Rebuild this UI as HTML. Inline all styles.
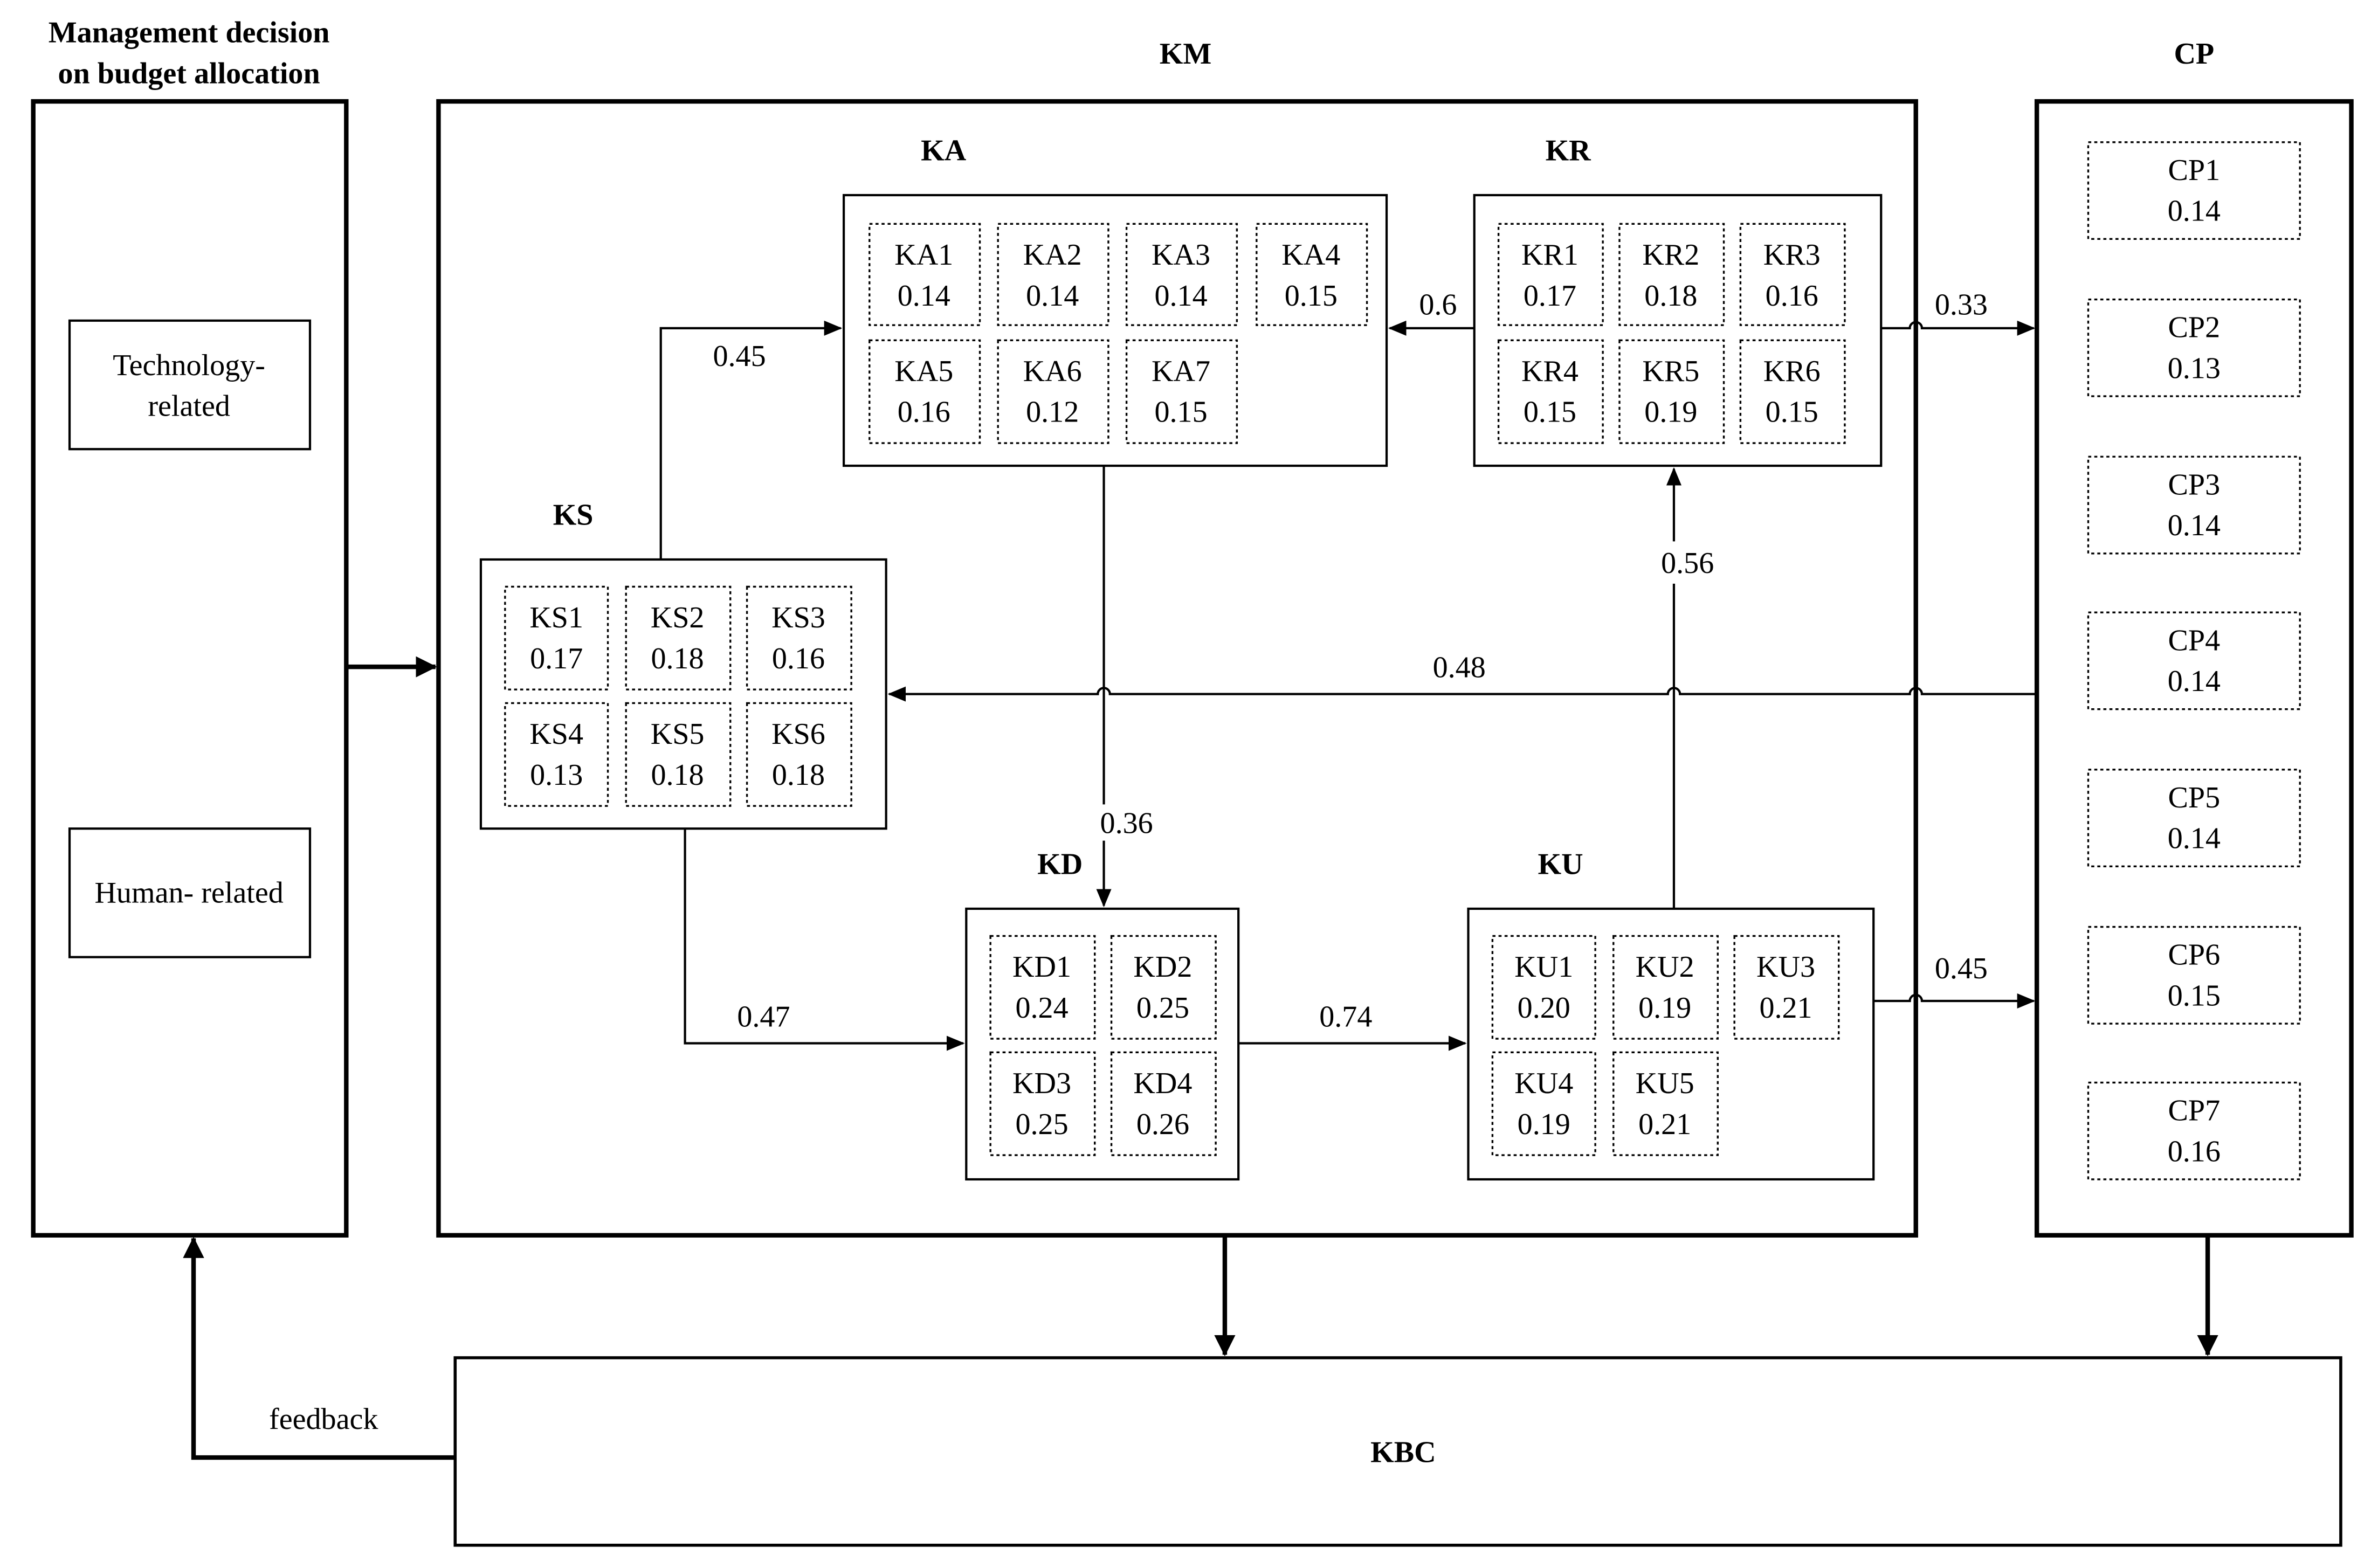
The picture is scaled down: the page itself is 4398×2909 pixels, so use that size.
<!DOCTYPE html>
<html><head><meta charset="utf-8"><style>html,body{margin:0;padding:0;background:#fff}svg{display:block}</style></head>
<body>
<svg width="4398" height="2909" viewBox="0 0 1568 1037" xmlns="http://www.w3.org/2000/svg" font-family="Liberation Serif, serif">
<defs>
<marker id="a" markerWidth="12" markerHeight="10" refX="11" refY="5" orient="auto" markerUnits="userSpaceOnUse"><path d="M0,0 L12,5 L0,10 Z" fill="#000"/></marker>
<marker id="b" markerWidth="14" markerHeight="14" refX="13" refY="7" orient="auto" markerUnits="userSpaceOnUse"><path d="M0,0 L14,7 L0,14 Z" fill="#000"/></marker>
</defs>
<rect width="1568" height="1037" fill="#fff"/>
<g fill="none" stroke="#000">
<rect x="22" y="67" width="207" height="750" stroke-width="3"/>
<rect x="290" y="67" width="977" height="750" stroke-width="3"/>
<rect x="1347" y="67" width="208" height="750" stroke-width="3"/>
<rect x="301" y="898" width="1247" height="124" stroke-width="2"/>
<rect x="46" y="212" width="159" height="85" stroke-width="1.5"/>
<rect x="46" y="548" width="159" height="85" stroke-width="1.5"/>
<rect x="558" y="129" width="359" height="179" stroke-width="1.5"/>
<rect x="975" y="129" width="269" height="179" stroke-width="1.5"/>
<rect x="318" y="370" width="268" height="178" stroke-width="1.5"/>
<rect x="639" y="601" width="180" height="179" stroke-width="1.5"/>
<rect x="971" y="601" width="268" height="179" stroke-width="1.5"/>
<g stroke-dasharray="2,2" stroke-width="1.2">
<rect x="575" y="148" width="73" height="67"/><rect x="660" y="148" width="73" height="67"/><rect x="745" y="148" width="73" height="67"/><rect x="831" y="148" width="73" height="67"/>
<rect x="575" y="225" width="73" height="68"/><rect x="660" y="225" width="73" height="68"/><rect x="745" y="225" width="73" height="68"/>
<rect x="991" y="148" width="69" height="67"/><rect x="1071" y="148" width="69" height="67"/><rect x="1151" y="148" width="69" height="67"/>
<rect x="991" y="225" width="69" height="68"/><rect x="1071" y="225" width="69" height="68"/><rect x="1151" y="225" width="69" height="68"/>
<rect x="334" y="388" width="68" height="68"/><rect x="414" y="388" width="69" height="68"/><rect x="494" y="388" width="69" height="68"/>
<rect x="334" y="465" width="68" height="68"/><rect x="414" y="465" width="69" height="68"/><rect x="494" y="465" width="69" height="68"/>
<rect x="655" y="619" width="69" height="68"/><rect x="735" y="619" width="69" height="68"/>
<rect x="655" y="696" width="69" height="68"/><rect x="735" y="696" width="69" height="68"/>
<rect x="987" y="619" width="68" height="68"/><rect x="1067" y="619" width="69" height="68"/><rect x="1147" y="619" width="69" height="68"/>
<rect x="987" y="696" width="68" height="68"/><rect x="1067" y="696" width="69" height="68"/>
<rect x="1381" y="94" width="140" height="64"/><rect x="1381" y="198" width="140" height="64"/><rect x="1381" y="302" width="140" height="64"/><rect x="1381" y="405" width="140" height="64"/><rect x="1381" y="509" width="140" height="64"/><rect x="1381" y="613" width="140" height="64"/><rect x="1381" y="716" width="140" height="64"/>
</g>
<g stroke-width="1.5">
<path d="M437,370 V217 H556" marker-end="url(#a)"/>
<path d="M975,217 H919" marker-end="url(#a)"/>
<path d="M1244,217 H1263 a4,4 0 0 1 8,0 H1345" marker-end="url(#a)"/>
<path d="M730,308 V532 M730,556 V599" marker-end="url(#a)"/>
<path d="M1347,459 H1271 a4,4 0 0 0 -8,0 H1111 a4,4 0 0 0 -8,0 H734 a4,4 0 0 0 -8,0 H588" marker-end="url(#a)"/>
<path d="M1107,601 V386 M1107,358 V310" marker-end="url(#a)"/>
<path d="M453,548 V690 H637" marker-end="url(#a)"/>
<path d="M819,690 H969" marker-end="url(#a)"/>
<path d="M1239,662 H1263 a4,4 0 0 1 8,0 H1345" marker-end="url(#a)"/>
</g>
<g stroke-width="3">
<path d="M229,441 H288" marker-end="url(#b)"/>
<path d="M810,817 V896" marker-end="url(#b)"/>
<path d="M1460,817 V896" marker-end="url(#b)"/>
<path d="M301,964 H128 V819" marker-end="url(#b)"/>
</g>
</g>
<g font-size="20" text-anchor="middle" fill="#000">
<g font-weight="bold">
<text x="125" y="28">Management decision</text><text x="125" y="55">on budget allocation</text>
<text x="784" y="42">KM</text><text x="1451" y="42">CP</text>
<text x="624" y="106">KA</text><text x="1037" y="106">KR</text><text x="379" y="347">KS</text>
<text x="701" y="578">KD</text><text x="1032" y="578">KU</text>
<text x="928" y="967">KBC</text>
</g>
<text x="125" y="248">Technology-</text><text x="125" y="275">related</text>
<text x="125" y="597">Human- related</text>
<text x="214" y="945">feedback</text>
<text x="489" y="242">0.45</text><text x="951" y="208">0.6</text><text x="1297" y="208">0.33</text>
<text x="965" y="448">0.48</text><text x="745" y="551">0.36</text><text x="1116" y="379">0.56</text>
<text x="505" y="679">0.47</text><text x="890" y="679">0.74</text><text x="1297" y="647">0.45</text>
<g>
<text x="611" y="175">KA1</text><text x="611" y="202">0.14</text>
<text x="696" y="175">KA2</text><text x="696" y="202">0.14</text>
<text x="781" y="175">KA3</text><text x="781" y="202">0.14</text>
<text x="867" y="175">KA4</text><text x="867" y="202">0.15</text>
<text x="611" y="252">KA5</text><text x="611" y="279">0.16</text>
<text x="696" y="252">KA6</text><text x="696" y="279">0.12</text>
<text x="781" y="252">KA7</text><text x="781" y="279">0.15</text>
<text x="1025" y="175">KR1</text><text x="1025" y="202">0.17</text>
<text x="1105" y="175">KR2</text><text x="1105" y="202">0.18</text>
<text x="1185" y="175">KR3</text><text x="1185" y="202">0.16</text>
<text x="1025" y="252">KR4</text><text x="1025" y="279">0.15</text>
<text x="1105" y="252">KR5</text><text x="1105" y="279">0.19</text>
<text x="1185" y="252">KR6</text><text x="1185" y="279">0.15</text>
<text x="368" y="415">KS1</text><text x="368" y="442">0.17</text>
<text x="448" y="415">KS2</text><text x="448" y="442">0.18</text>
<text x="528" y="415">KS3</text><text x="528" y="442">0.16</text>
<text x="368" y="492">KS4</text><text x="368" y="519">0.13</text>
<text x="448" y="492">KS5</text><text x="448" y="519">0.18</text>
<text x="528" y="492">KS6</text><text x="528" y="519">0.18</text>
<text x="689" y="646">KD1</text><text x="689" y="673">0.24</text>
<text x="769" y="646">KD2</text><text x="769" y="673">0.25</text>
<text x="689" y="723">KD3</text><text x="689" y="750">0.25</text>
<text x="769" y="723">KD4</text><text x="769" y="750">0.26</text>
<text x="1021" y="646">KU1</text><text x="1021" y="673">0.20</text>
<text x="1101" y="646">KU2</text><text x="1101" y="673">0.19</text>
<text x="1181" y="646">KU3</text><text x="1181" y="673">0.21</text>
<text x="1021" y="723">KU4</text><text x="1021" y="750">0.19</text>
<text x="1101" y="723">KU5</text><text x="1101" y="750">0.21</text>
<text x="1451" y="119">CP1</text><text x="1451" y="146">0.14</text>
<text x="1451" y="223">CP2</text><text x="1451" y="250">0.13</text>
<text x="1451" y="327">CP3</text><text x="1451" y="354">0.14</text>
<text x="1451" y="430">CP4</text><text x="1451" y="457">0.14</text>
<text x="1451" y="534">CP5</text><text x="1451" y="561">0.14</text>
<text x="1451" y="638">CP6</text><text x="1451" y="665">0.15</text>
<text x="1451" y="741">CP7</text><text x="1451" y="768">0.16</text>
</g>
</g>
</svg>
</body></html>
